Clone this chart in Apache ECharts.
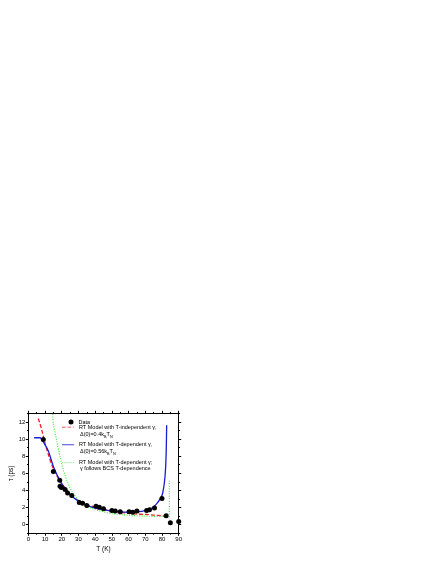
<!DOCTYPE html>
<html>
<head>
<meta charset="utf-8">
<script src="https://cdn.jsdelivr.net/npm/echarts@6/dist/echarts.min.js"></script>
<style>
  html, body { margin: 0; padding: 0; background: #fff; }
  #chart { width: 436px; height: 564px; }
</style>
</head>
<body>
<div id="chart"></div>
<script>
// measured points
var dataPts = [
  [9, 9.95], [15, 6.2], [18.8, 5.2], [19, 4.5], [19.8, 4.35], [22, 4.1],
  [23.5, 3.7], [26, 3.4], [30.5, 2.6], [32.5, 2.5], [35, 2.25], [40.5, 2.15],
  [42.5, 2.05], [45, 1.85], [50, 1.65], [52, 1.6], [55, 1.5], [60.3, 1.5],
  [62.5, 1.45], [65, 1.6], [70.8, 1.65], [72.5, 1.75], [75.5, 1.95],
  [80, 3.05], [82.5, 1.05], [85, 0.22], [90, 0.38]
];
// RT model, T-independent gamma
var redLine = [
  [6, 12.4], [8, 11.1], [10, 9.5], [12, 8.2], [15, 6.5], [18, 5.4], [20, 4.8],
  [25, 3.6], [30, 2.8], [35, 2.35], [40, 2.05], [45, 1.8], [50, 1.6], [55, 1.45],
  [60, 1.35], [65, 1.25], [70, 1.2], [75, 1.12], [80, 1.05], [82, 1.0]
];
// RT model, T-dependent gamma
var blueLine = [
  [3.5, 10.15], [7, 10.15], [9.5, 9.5], [12, 8.6], [15, 6.8], [18, 5.5], [20, 4.8],
  [23, 4.0], [26, 3.35], [30, 2.75], [35, 2.25], [40, 1.95], [45, 1.75], [50, 1.6],
  [55, 1.5], [60, 1.45], [65, 1.5], [70, 1.65], [73, 1.85], [75, 2.1], [77, 2.5],
  [78.5, 2.9], [80, 3.4], [81, 4.3], [81.8, 5.6], [82.3, 7.2], [82.6, 9.2], [82.8, 11.6]
];
// gamma follows BCS
var greenLine = [
  [14.5, 13.5], [15, 11.8], [17, 9.8], [19, 7.9], [21, 6.35], [23, 5.2], [26, 3.9],
  [30, 2.9], [35, 2.15], [40, 1.75], [45, 1.5], [50, 1.3], [55, 1.2], [60, 1.1],
  [70, 1.0], [80, 0.97], [84.4, 0.95], [84.4, 5.2]
];
var yLabels = [0, 2, 4, 6, 8, 10, 12];
var yMinor = [-1, 1, 3, 5, 7, 9, 11, 13];

var font = 'Liberation Sans';
var fs = 5.5;

var chart = echarts.init(document.getElementById('chart'));

function xAx(pos, labels) {
  return {
    type: 'value', position: pos, min: 0, max: 90, interval: 10,
    axisLine: { show: true, onZero: false, lineStyle: { color: '#000', width: 1 } },
    axisTick: { show: true, inside: false, length: 2.5, lineStyle: { color: '#000' } },
    minorTick: { show: true, splitNumber: 2, length: 1.3, lineStyle: { color: '#000' } },
    splitLine: { show: false },
    axisLabel: { show: labels, color: '#000', fontSize: 6, fontFamily: font, margin: 3 },
    name: labels ? 'T (K)' : '', nameLocation: 'middle', nameGap: 12,
    nameTextStyle: { color: '#000', fontSize: 6.5, fontFamily: font }
  };
}
function yAx(pos, labels, ticks, len, line) {
  return {
    type: 'value', position: pos, min: -1, max: 13,
    axisLine: { show: line, onZero: false, lineStyle: { color: '#000', width: 1 } },
    axisTick: { show: true, inside: false, length: len, customValues: ticks, lineStyle: { color: '#000' } },
    splitLine: { show: false },
    axisLabel: { show: labels, customValues: yLabels, color: '#000', fontSize: 6, fontFamily: font, margin: 3 },
    name: labels ? 'τ (ps)' : '', nameLocation: 'middle', nameGap: 10,
    nameTextStyle: { color: '#000', fontSize: 6.5, fontFamily: font }
  };
}

// legend icons: filled paths drawn as short line segments
var dashIcon = 'path://M0,0H4.5V1H0Z M7,0H11.5V1H7Z M14,0H15V1H14Z';
var solidIcon = 'path://M0,0H15V1H0Z';
var dotIcon = 'path://M0,0H1V1H0Z M2.5,0H3.5V1H2.5Z M5,0H6V1H5Z M7.5,0H8.5V1H7.5Z M10,0H11V1H10Z M12.5,0H13.5V1H12.5Z M15,0H16V1H15Z';

function leg(name, top, icon, color, h) {
  return {
    data: [{ name: name, icon: icon, itemStyle: { color: color } }],
    orient: 'vertical', left: 62, top: top, padding: 0,
    itemWidth: 12, itemHeight: h, selectedMode: false,
    textStyle: { color: '#000', fontSize: fs, fontFamily: font }
  };
}

function subText(top, parts) {
  return {
    type: 'text', left: 80, top: top,
    style: {
      text: parts,
      fill: '#000',
      rich: {
        a: { fontSize: fs, fontFamily: font, fill: '#000', lineHeight: 8, verticalAlign: 'top' },
        s: { fontSize: 3.8, fontFamily: font, fill: '#000', lineHeight: 8, padding: [3.5, 0, 0, 0], verticalAlign: 'top' }
      }
    }
  };
}

var option = {
  animation: false,
  grid: { left: 28.3, top: 413.3, right: 257.3, bottom: 30.7, containLabel: false },
  xAxis: [xAx('bottom', true), xAx('top', false)],
  yAxis: [
    yAx('left', true, yLabels, 2.5, true),
    yAx('left', false, yMinor, 1.3, false),
    yAx('right', false, yLabels, 2.5, true),
    yAx('right', false, yMinor, 1.3, false)
  ],
  legend: [
    {
      data: [{ name: 'Data', icon: 'circle', itemStyle: { color: '#000' } }],
      orient: 'vertical', left: 68.5, top: 419, padding: 0,
      itemWidth: 5, itemHeight: 5, itemGap: 5, selectedMode: false,
      textStyle: { color: '#000', fontSize: fs, fontFamily: font }
    },
    leg('RT Model with T-independent γ,', 424.2, dashIcon, '#ee1c24', 1.6),
    leg('RT Model with T-dependent γ,', 441.8, solidIcon, '#1a1ad6', 1.6),
    leg('RT Model with T-dependent γ;', 459.5, dotIcon, '#3cf03c', 1.4)
  ],
  graphic: [
    subText(431.5, '{a|Δ(0)=0.4k}{s|B}{a|T}{s|N}'),
    subText(448.9, '{a|Δ(0)=0.56k}{s|B}{a|T}{s|N}'),
    subText(465.5, '{a|γ follows BCS T-dependence}')
  ],
  series: [
    {
      name: 'Data', type: 'scatter', data: dataPts, symbol: 'circle', symbolSize: 5,
      itemStyle: { color: '#000', opacity: 1 }, z: 5
    },
    {
      name: 'RT Model with T-independent γ,', type: 'line', data: redLine,
      showSymbol: false, symbol: 'none', smooth: 0.3,
      lineStyle: { color: '#ee1c24', width: 1.3, type: [4, 2] }, itemStyle: { color: '#ee1c24' }
    },
    {
      name: 'RT Model with T-dependent γ,', type: 'line', data: blueLine,
      showSymbol: false, symbol: 'none', smooth: 0.2,
      lineStyle: { color: '#1a1ad6', width: 1.3 }, itemStyle: { color: '#1a1ad6' }
    },
    {
      name: 'RT Model with T-dependent γ;', type: 'line', data: greenLine,
      showSymbol: false, symbol: 'none', smooth: 0.2,
      lineStyle: { color: '#3cf03c', width: 1.2, type: [1, 1.5] }, itemStyle: { color: '#3cf03c' }
    }
  ]
};
chart.setOption(option);
</script>
</body>
</html>
